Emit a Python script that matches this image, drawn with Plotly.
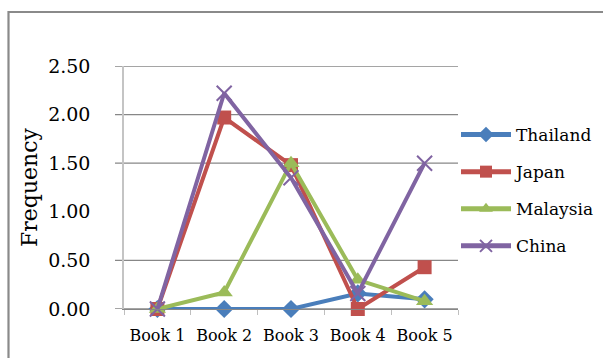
import plotly.graph_objects as go

# Category labels and per-country frequencies
books = ["Book 1", "Book 2", "Book 3", "Book 4", "Book 5"]
thailand = [0.00, 0.00, 0.00, 0.16, 0.10]
japan = [0.00, 1.97, 1.48, 0.00, 0.43]
malaysia = [0.00, 0.17, 1.50, 0.30, 0.08]
china = [0.00, 2.22, 1.35, 0.16, 1.50]

y_ticks = [0.0, 0.5, 1.0, 1.5, 2.0, 2.5]
y_tick_text = ["0.00", "0.50", "1.00", "1.50", "2.00", "2.50"]
grid_levels = [0.0, 0.5, 1.5, 2.0, 2.5]

W, H = 603, 358
L, R, T, B = 124, 145, 66, 49
PW, PH = W - L - R, H - T - B


def px_x(x):
    return (x - L) / PW


def px_y(y):
    return (H - B - y) / PH


FONT = "DejaVu Serif"
GRID = "#878787"

series = [
    ("Thailand", thailand, "#4A7EBB", dict(symbol="diamond", size=14)),
    ("Japan", japan, "#C0504D", dict(symbol="square", size=14)),
    ("Malaysia", malaysia, "#9BBB59", dict(symbol="triangle-up", size=15)),
    ("China", china, "#8064A2", dict(symbol="x-thin", size=15,
                                      line=dict(width=2, color="#8064A2"))),
]

fig = go.Figure()
for name, vals, color, marker in series:
    fig.add_trace(go.Scatter(
        x=books, y=vals, name=name, mode="lines+markers",
        line=dict(color=color, width=4),
        marker=dict(color=color, **marker),
        legendgroup=name, cliponaxis=False,
    ))

shapes = []
# horizontal grid lines (extended left to form the tick marks)
for g in grid_levels:
    shapes.append(dict(type="line", xref="paper", yref="y",
                       x0=px_x(115), x1=1, y0=g, y1=g,
                       line=dict(color=GRID, width=1.3), layer="below"))
# outer chart frame
shapes.append(dict(type="rect", xref="paper", yref="paper",
                   x0=px_x(8.5), x1=px_x(615), y0=px_y(370), y1=px_y(12),
                   line=dict(color="#8a8a8a", width=2.2), layer="below"))

fig.update_layout(
    width=W, height=H,
    margin=dict(l=L, r=R, t=T, b=B, autoexpand=False),
    paper_bgcolor="white", plot_bgcolor="white",
    shapes=shapes,
    showlegend=True,
    legend=dict(x=px_x(456), y=px_y(117), xanchor="left", yanchor="top",
                font=dict(family=FONT, size=17, color="#000"),
                itemwidth=50, tracegroupgap=12, itemsizing="constant",
                bgcolor="rgba(0,0,0,0)"),
    xaxis=dict(
        type="category", range=[-0.5, 4.5],
        showgrid=False, zeroline=False,
        showline=True, linecolor=GRID, linewidth=1.3,
        ticks="outside", tickson="boundaries", ticklen=5, tickcolor="#bfbfbf",
        ticklabelstandoff=12,
        tickfont=dict(family=FONT, size=16, color="#000"),
    ),
    yaxis=dict(
        range=[0, 2.5], tickvals=y_ticks, ticktext=y_tick_text,
        showgrid=False, zeroline=False,
        showline=True, linecolor="#c4c4c4", linewidth=1.5,
        ticks="", ticklabelstandoff=28,
        tickfont=dict(family=FONT, size=19, color="#000"),
        title=dict(text="Frequency", standoff=4,
                   font=dict(family=FONT, size=22, color="#000")),
    ),
)

fig.write_html("out.html")
